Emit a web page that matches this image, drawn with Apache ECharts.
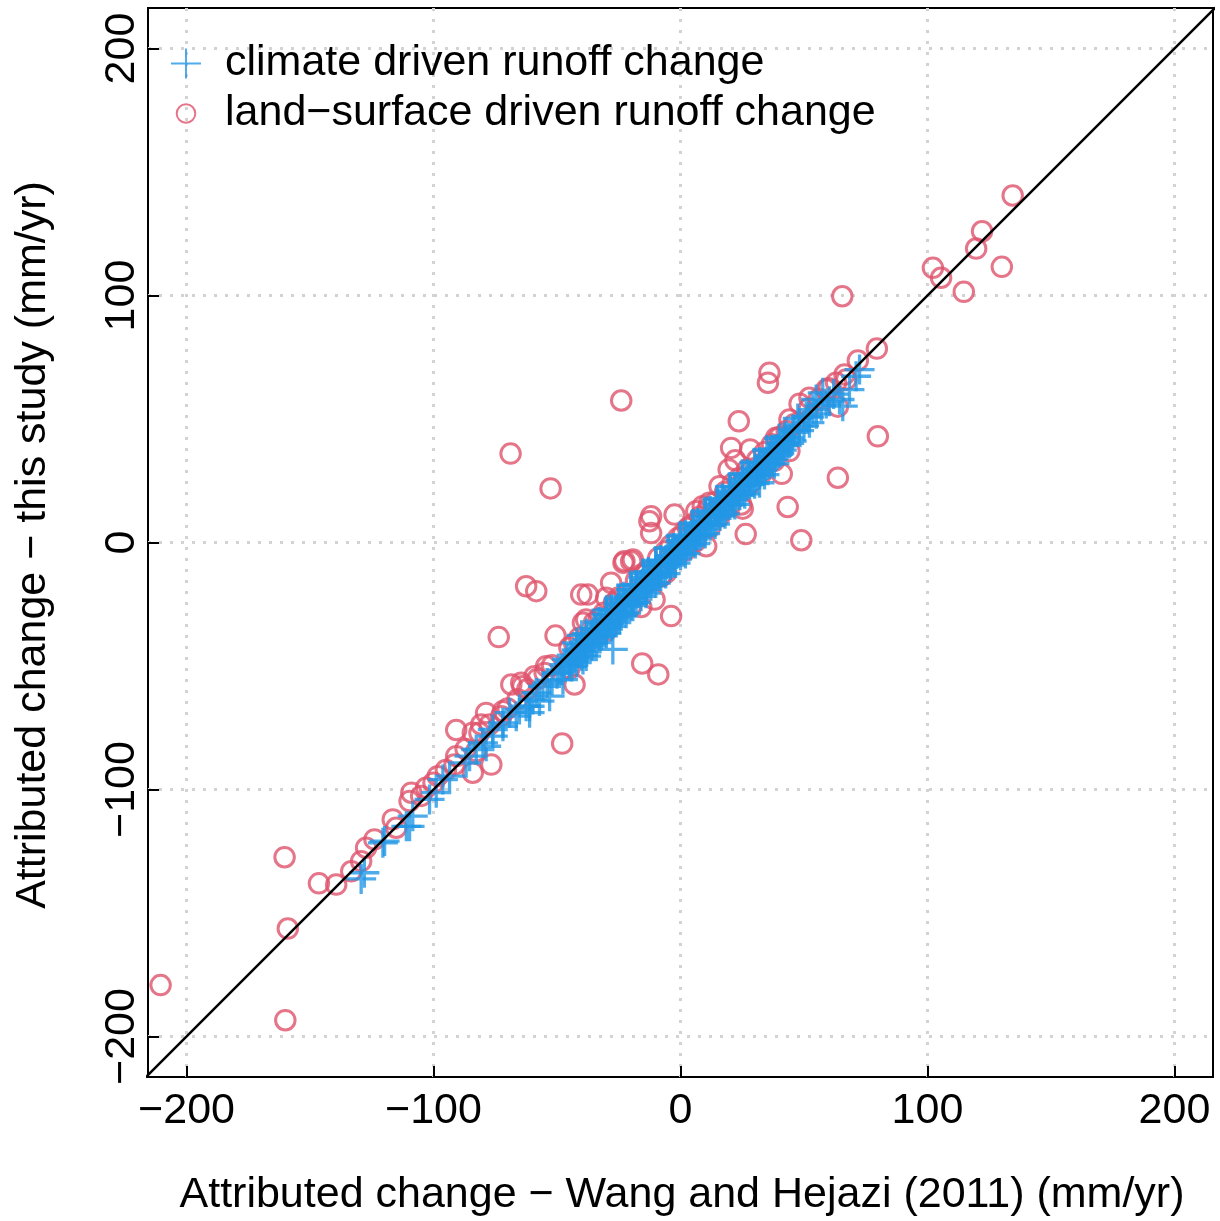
<!DOCTYPE html>
<html><head><meta charset="utf-8">
<script src="https://cdn.jsdelivr.net/npm/echarts@6/dist/echarts.min.js"></script>
<style>html,body{margin:0;padding:0;background:#fff}#c{width:1220px;height:1221px}</style>
</head><body><div id="c"></div>
<script>
const tickValues = [-200, -100, 0, 100, 200];
const seriesNames = ['climate driven runoff change', 'land\u2212surface driven runoff change'];
const xTitle = 'Attributed change \u2212 Wang and Hejazi (2011) (mm/yr)';
const yTitle = 'Attributed change \u2212 this study (mm/yr)';
const diagonal = [[-300, -300], [300, 300]];

const climatePoints = [
 [-129.3,-136.2],[-128.0,-133.7],[-120.5,-121.6],[-119.8,-120.9],[-111.0,-114.9],[-109.7,-114.9],[-108.4,-110.8],
 [-101.6,-104.0],[-98.9,-101.3],[-96.2,-96.0],[-93.5,-94.6],[-86.8,-89.2],[-85.4,-86.5],[-82.7,-83.8],[-80.0,-81.1],
 [-78.7,-82.5],[-76.0,-75.7],[-76.0,-78.4],[-71.9,-74.4],[-71.9,-73.0],[-69.2,-68.9],[-66.5,-70.3],[-65.2,-67.6],
 [-62.5,-66.3],[-61.1,-68.9],[-61.1,-66.3],[-59.8,-63.6],[-58.4,-60.9],[-57.1,-64.2],[-55.7,-58.2],[-53.0,-62.2],
 [-49.0,-52.8],[-47.6,-55.5],[-44.9,-50.1],[-39.5,-47.4],[-38.2,-46.0],[-35.5,-40.6],[-32.8,-37.9],[-30.1,-35.2],
 [-27.4,-43.3],[-24.7,-31.2],[-19.3,-24.4],[-13.9,-19.0],[-8.5,-12.3],[-3.1,-5.5],[2.3,1.2],
 [-47,-49.5],[-46,-47.2],[-45,-48.3],[-44,-45.6],[-43,-46.8],[-42,-43.5],[-41,-44.2],[-40,-41.3],[-39,-42.6],
 [-38,-39.4],[-37,-40.8],[-36,-37.5],[-35,-38.6],[-34,-35.2],[-33,-36.4],[-32,-33.1],[-31,-34.5],[-30,-31.4],
 [-29,-32.7],[-28,-29.2],[-27,-30.3],[-26,-27.6],[-25,-28.8],[-24,-25.3],[-23,-26.1],[-22,-23.4],[-21,-24.6],
 [-20,-21.2],[-19,-22.5],[-18,-19.3],[-17,-20.4],[-16,-17.1],[-15,-18.3],[-14,-15.2],[-13,-16.5],[-12,-13.1],
 [-11,-14.2],[-10,-11.4],[-9,-12.6],[-8,-9.3],[-7,-10.1],[-6,-7.2],[-5,-8.4],[-4,-5.3],[-3,-6.6],[-2,-3.2],
 [-1,-4.3],[0,-1.4],[1,-2.5],[2,0.6],[3,-0.7],[4,2.4],[5,1.3],[6,4.2],[7,3.1],[8,6.5],[9,5.2],[10,8.4],[11,7.3],
 [12,10.6],[13,9.2],[14,12.3],[15,11.1],[16,14.5],[17,13.2],[18,16.4],[19,15.1],[20,18.6],[21,17.3],[22,20.2],
 [23,19.4],[24,22.5],[25,21.1],[26,24.3],[27,23.2],[28,26.6],[29,25.4],[30,28.2],[31,27.1],[32,30.5],[33,29.3],
 [34,32.1],[35,31.4],[36,34.2],[37,33.5],[38,36.6],[39,35.3],[40,38.1],[41,37.4],[42,40.5],[43,39.2],[44,42.3],
 [45,41.1],[46,44.6],[48,45.3],
 [-35,-34.8],[-30,-29.0],[-25,-24.5],[-20,-19.1],[-15,-14.2],[-10,-8.8],[0,0.9],[5,5.8],[10,10.7],[15,15.6],
 [20,20.9],[25,25.4],
 [50.9,51.1],[52.2,48.5],[53.6,53.8],[54.9,57.9],[57.6,60.6],[60.3,57.2],[64.4,57.9],[65.7,55.2],[68.4,61.9],
 [71.1,67.3],[72.5,70.0],[47.5,50.2],[32.0,24.2],[38.7,37.7],[41.4,39.7],[42.8,43.0],[45.5,45.7],[48.2,47.1],
 [36.0,34.9],[33.3,32.3],[30.6,29.6],[27.9,26.8],
 [-44,-50.2],[-40,-45.9],[-36,-41.8],[-32,-37.6],[-28,-33.9],[-24,-29.7],[-20,-25.4],[-16,-21.8],[-12,-17.5],
 [-8,-13.6],[-4,-9.2],[0,-5.1],[4,-1.3],[8,2.9],[12,6.8],[16,10.7],[20,15.2],[24,19.1],[28,23.6],[32,27.4],
 [36,31.8],[40,36.2],[44,40.1],
 [-42,-40.6],[-38,-36.9],[-33,-32.2],[-28,-27.1],[-23,-22.0],[-18,-17.2],[-13,-11.9],[-8,-7.1],[-3,-2.2],[2,3.1],
 [7,7.9],[12,12.8],[17,17.9],[22,22.7],[27,27.8],[32,32.6],[37,37.5],[42,42.4],
 [-52,-55.8],[-50,-53.1],[-48,-51.7],[-54,-56.9],[50,47.2],[52,50.8],[55,52.1],[57,55.4],[59,56.3],[62,60.1],
 [-42,-48.6],[-38,-44.3],[-34,-40.5],[-30,-36.7],[-26,-32.4],[-22,-28.6],[-18,-24.3],[-14,-20.5],[-10,-16.4],
 [-6,-12.6],[-2,-8.3],[2,-4.5],[6,-0.4],[10,3.6],[14,7.5],[18,11.6],[22,15.4],[26,19.7],[30,23.8],[34,27.5],
 [38,31.9],
 [-40,-37.6],[-30,-27.4],[-20,-17.3],[-10,-7.5],[0,2.6],[10,12.4],[20,22.5],[30,32.3],[40,42.1],[-25,-22.8],
 [-15,-12.6],[-5,-2.4],[5,7.5],[15,17.3],[25,27.6],[35,37.4]
];

const landPoints = [
 [134.5,140.5],[122.1,126.0],[119.7,119.0],[102.2,111.2],[105.5,107.2],[130.1,111.6],[114.7,101.5],[65.5,99.7],
 [79.5,78.5],[71.8,73.7],[79.9,43.0],[36.0,68.7],[35.4,64.7],[23.6,49.1],[63.7,26.2],[43.4,14.4],[48.9,0.9],
 [26.4,3.4],[41.0,27.8],[20.5,38.3],[28.2,37.7],[22.2,33.3],[19.5,29.6],[48.2,56.2],[66.4,68.0],[63.0,64.7],
 [63.7,55.0],[44.1,37.0],[25.2,13.7],[15.8,22.8],[11.7,16.1],[9.0,14.7],[38.7,42.4],[44.1,49.8],[59.0,61.9],
 [52.2,58.6],[67.1,66.0],[15.8,10.6],[10.4,-1.5],[13.1,12.0],[17.1,13.4],[6.4,12.7],[24.6,15.4],
 [-24.0,57.5],[-68.8,36.0],[-52.6,21.9],[-11.9,10.6],[-2.4,11.3],[-11.9,3.8],[-12.6,8.6],[-22.7,-7.6],[-19.3,-6.9],
 [-23.1,-8.2],[-20.0,-7.6],[-7.8,-13.6],[-10.5,-23.1],[-15.9,-26.1],[-3.8,-29.8],[-28.1,-16.3],[-30.1,-22.4],
 [-62.5,-17.7],[-58.4,-19.7],[-40.2,-21.1],[-37.5,-21.1],[-73.6,-38.3],[-50.6,-37.7],[-15.5,-49.0],[-9.0,-53.4],
 [-42.9,-57.5],[-47.9,-81.4],[-90.8,-75.9],[-78.7,-69.0],[-64.5,-56.8],[-59.1,-54.1],[-39.5,-32.5],[-38.2,-31.2],
 [-54.4,-50.1],[-71.9,-68.3],[-77.3,-73.7],[-81.4,-77.0],[-80.7,-73.7],[-72.6,-70.3],[-84.1,-77.0],[-82.7,-84.5],
 [-84.1,-93.2],[-76.6,-89.9],[-90.8,-86.5],[-91.5,-89.9],[-98.3,-94.6],[-103.0,-99.3],[-109.0,-101.3],
 [-109.7,-104.7],[-115.1,-115.5],[-116.5,-112.1],[-123.9,-120.2],[-127.3,-123.6],[-129.3,-129.0],[-133.3,-133.1],
 [-139.4,-138.5],[-146.4,-138.0],[-160.3,-127.4],[-159.0,-156.3],[-160.0,-193.4],[-210.5,-179.2],[-68.5,-57.5],
 [-64.0,-58.2],
 [-45,-42.5],[-43,-41.0],[-41,-38.6],[-35,-32.4],[-33,-30.8],[-31,-28.4],[-27,-24.6],[-25,-22.3],[-18,-15.4],
 [-16,-13.2],[-14,-11.8],[-9,-6.3],[-6,-3.5],[-4,-1.2],[-1,1.8],[1,3.6],[3,5.9],[5,7.4],[8,10.5],[11,13.6],
 [14,16.3],[18,20.4],[21,23.7],[24,26.2],[27,29.5],[31,33.4],[34,36.5],[37,39.8],[40,42.6],[43,45.1],[46,47.9],
 [52,54.3],[56,58.1],[60,62.4],[-55,-52.8],[-52,-49.7],[-58,-55.3],[-62,-59.4],[-66,-63.5],[-70,-67.2],
 [-87,-83.6],[-95,-92.1],[-100,-97.3],[-105,-102.6],
 [-8,-13.8],[2,-3.2],[6,0.4],[12,6.3],[20,14.8],[28,23.4],[33,28.2],[-20,-25.8],[-30,-35.6],[-45,-51.0],
 [38,33.1],[-6,-12.4]
];

const FONT = "'Liberation Sans', Arial, Helvetica, sans-serif";
const FS = 43;
const BLUE = '#2297E6', RED = '#DF536B';
const fmt = v => (v < 0 ? '\u2212' + Math.abs(v) : String(v));
const crossPath = 'path://M15,0L15,30M0,15L30,15';
// circle of radius 9.3 inside a 30x30 box (the two moveTo points only widen the icon box)
const legendCirclePath = 'path://M0,0M30,30M24.3,15A9.3,9.3,0,1,1,5.7,15A9.3,9.3,0,1,1,24.3,15Z';

const chart = echarts.init(document.getElementById('c'), null, {renderer: 'canvas'});
chart.setOption({
  animation: false,
  backgroundColor: '#ffffff',
  grid: {left: 148, right: 7, top: 8, bottom: 144, show: true, borderColor: '#000', borderWidth: 2, backgroundColor: 'transparent', containLabel: false},
  xAxis: {
    type: 'value', min: -215.6, max: 215.6,
    axisLine: {show: false, onZero: false},
    axisTick: {show: true, inside: true, length: 11, customValues: tickValues, lineStyle: {color: '#000', width: 2}},
    axisLabel: {show: true, customValues: tickValues, formatter: fmt, color: '#000', fontSize: FS, fontFamily: FONT, margin: 13},
    splitLine: {show: true, lineStyle: {color: '#D3D3D3', width: 3, type: [3, 8]}}
  },
  yAxis: {
    type: 'value', min: -216.4, max: 216.4,
    axisLine: {show: false, onZero: false},
    axisTick: {show: true, inside: true, length: 11, customValues: tickValues, lineStyle: {color: '#000', width: 2}},
    axisLabel: {show: true, customValues: tickValues, formatter: fmt, color: '#000', fontSize: FS, fontFamily: FONT, margin: 4, rotate: 90},
    splitLine: {show: true, lineStyle: {color: '#D3D3D3', width: 3, type: [3, 8]}}
  },
  legend: {
    show: true, orient: 'vertical', left: 165, top: 37,
    itemWidth: 30, itemHeight: 30, itemGap: 7,
    data: [{name: seriesNames[0]}, {name: seriesNames[1], icon: legendCirclePath}],
    textStyle: {color: '#000', fontSize: FS, fontFamily: FONT, lineHeight: 43, padding: [0, 0, 0, 19]},
    selectedMode: false
  },
  graphic: [
    {type: 'text', x: 682, y: 1195, style: {text: xTitle, fill: '#000', font: FS + 'px ' + FONT, align: 'center', verticalAlign: 'middle'}},
    {type: 'text', x: 33, y: 545, rotation: Math.PI / 2, style: {text: yTitle, fill: '#000', font: FS + 'px ' + FONT, align: 'center', verticalAlign: 'middle'}}
  ],
  series: [
    {
      name: seriesNames[1], type: 'scatter', data: landPoints, symbol: 'circle', symbolSize: 19.5,
      itemStyle: {color: 'rgba(0,0,0,0)', borderColor: RED, borderWidth: 3}, z: 2, silent: true
    },
    {
      name: seriesNames[0], type: 'scatter', data: climatePoints, symbol: crossPath, symbolSize: 30,
      itemStyle: {color: 'rgba(0,0,0,0)', borderColor: BLUE, borderWidth: 3.3}, z: 3, silent: true
    },
    {
      name: 'diagonal', type: 'line', data: diagonal, symbol: 'none', clip: true,
      lineStyle: {color: '#000', width: 2.6}, z: 4, silent: true
    }
  ]
});
</script></body></html>
